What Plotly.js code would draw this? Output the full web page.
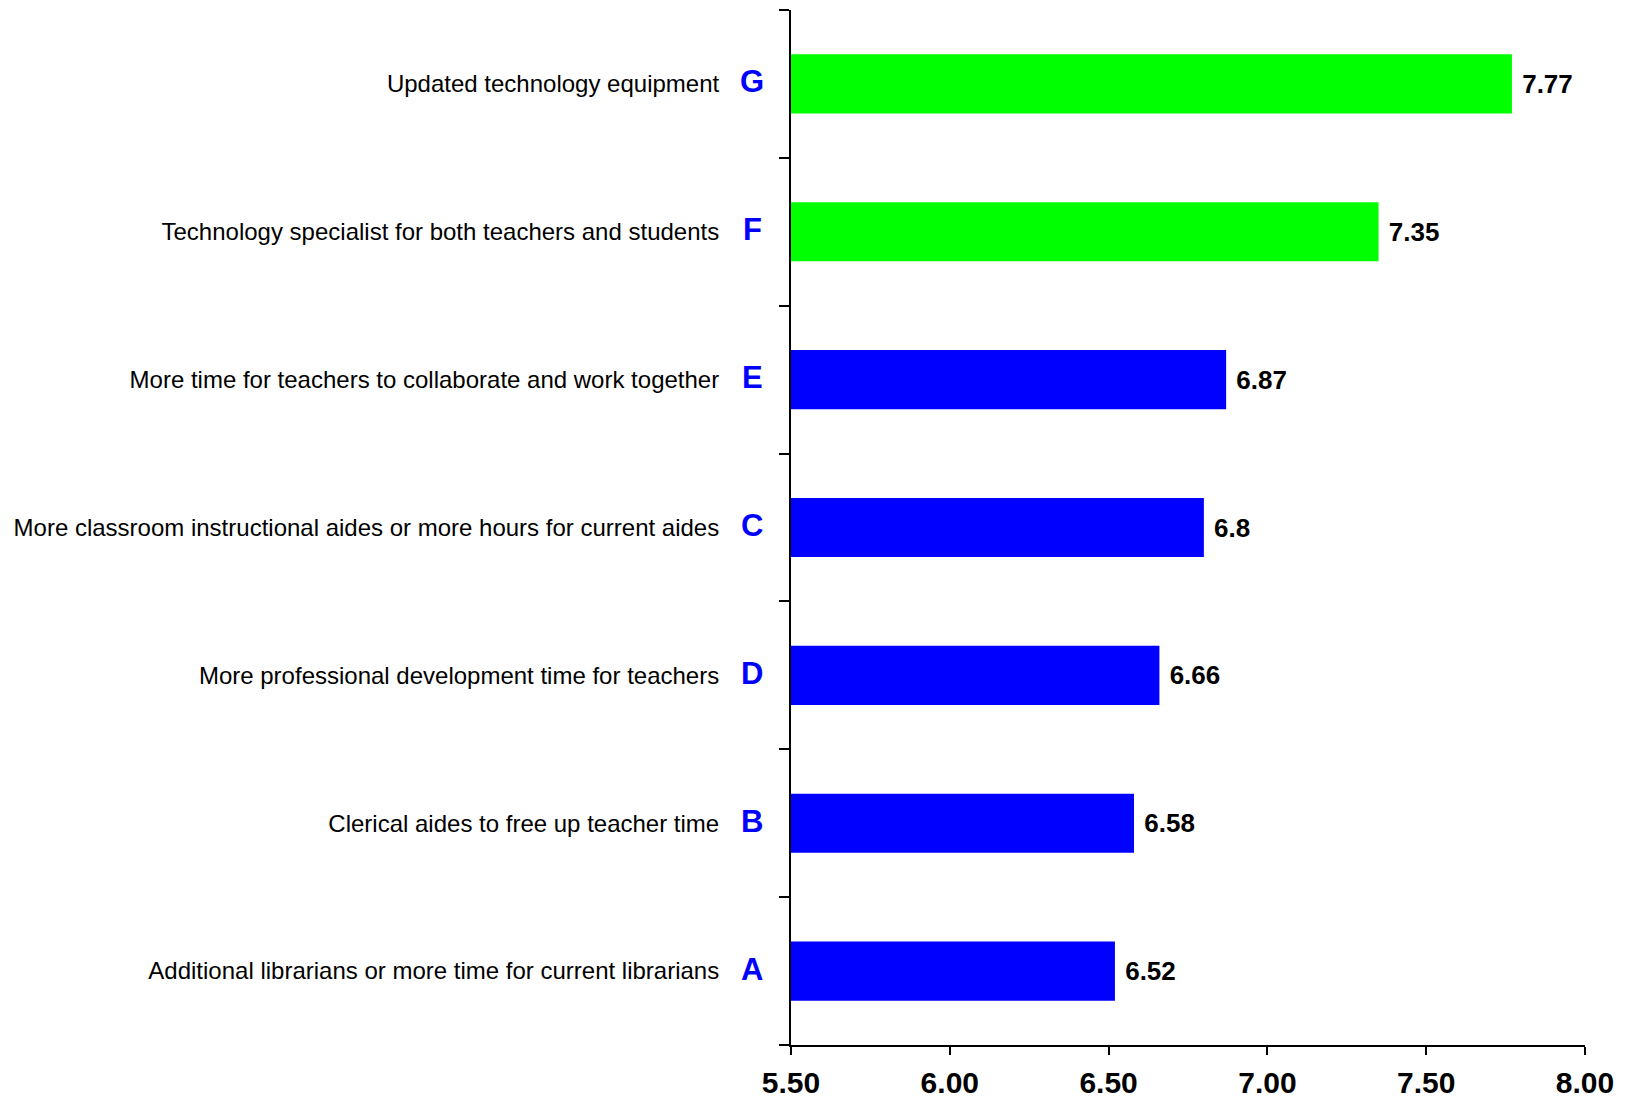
<!DOCTYPE html>
<html>
<head>
<meta charset="utf-8">
<script src="https://cdn.plot.ly/plotly-3.0.1.min.js"></script>
<style>html,body{margin:0;padding:0;background:#fff;}#chart{width:1638px;height:1098px;}</style>
</head>
<body>
<div id="chart"></div>
<script>
// Data (bottom to top)
const categories = [
  "Additional librarians or more time for current librarians",
  "Clerical aides to free up teacher time",
  "More professional development time for teachers",
  "More classroom instructional aides or more hours for current aides",
  "More time for teachers to collaborate and work together",
  "Technology specialist for both teachers and students",
  "Updated technology equipment"
];
const letters = ["A", "B", "D", "C", "E", "F", "G"];
const values = [6.52, 6.58, 6.66, 6.8, 6.87, 7.35, 7.77];
const valueLabels = ["6.52", "6.58", "6.66", "6.8", "6.87", "7.35", "7.77"];
const barColors = ["#0000FF", "#0000FF", "#0000FF", "#0000FF", "#0000FF", "#00FF00", "#00FF00"];
const xTickValues = [5.5, 6.0, 6.5, 7.0, 7.5, 8.0];
const xTickLabels = ["5.50", "6.00", "6.50", "7.00", "7.50", "8.00"];
const AXIS_START = 5.5;

const FONT = "Liberation Sans, Arial, sans-serif";

const trace = {
  type: "bar",
  orientation: "h",
  y: categories,
  x: values.map(v => v - AXIS_START),
  base: AXIS_START,
  marker: {color: barColors, line: {width: 0}},
  text: valueLabels.map(v => " " + v),
  textposition: "outside",
  cliponaxis: false,
  textfont: {family: FONT, size: 26, color: "#000000", weight: "bold"},
  hoverinfo: "skip"
};

const annotations = categories.map((c, i) => ({
  xref: "paper", yref: "y",
  x: 0, y: c,
  xanchor: "center", yanchor: "middle",
  xshift: -39, yshift: 2,
  text: "<b>" + letters[i] + "</b>",
  showarrow: false,
  font: {family: FONT, size: 31, color: "#0000FF"}
}));

const layout = {
  width: 1638, height: 1098,
  margin: {l: 791, r: 53, t: 10, b: 53, pad: 0},
  paper_bgcolor: "#ffffff",
  plot_bgcolor: "#ffffff",
  showlegend: false,
  bargap: 0.6,
  xaxis: {
    range: [5.5, 8.0],
    tickmode: "array",
    tickvals: xTickValues,
    ticktext: xTickLabels,
    showgrid: false,
    zeroline: false,
    showline: true,
    linecolor: "#000000",
    linewidth: 2,
    ticks: "outside",
    ticklen: 8,
    tickwidth: 2,
    tickcolor: "#000000",
    ticklabelstandoff: 2,
    tickfont: {family: FONT, size: 30, color: "#000000", weight: "bold"},
    fixedrange: true
  },
  yaxis: {
    type: "category",
    categoryorder: "array",
    categoryarray: categories,
    range: [-0.5, 6.5],
    tickson: "boundaries",
    showgrid: false,
    zeroline: false,
    showline: true,
    linecolor: "#000000",
    linewidth: 2,
    ticks: "outside",
    ticklen: 10,
    tickwidth: 2,
    tickcolor: "#000000",
    ticklabelstandoff: 65,
    tickfont: {family: FONT, size: 24, color: "#000000"},
    fixedrange: true
  },
  annotations: annotations
};

Plotly.newPlot("chart", [trace], layout, {displayModeBar: false, staticPlot: true});
</script>
</body>
</html>
